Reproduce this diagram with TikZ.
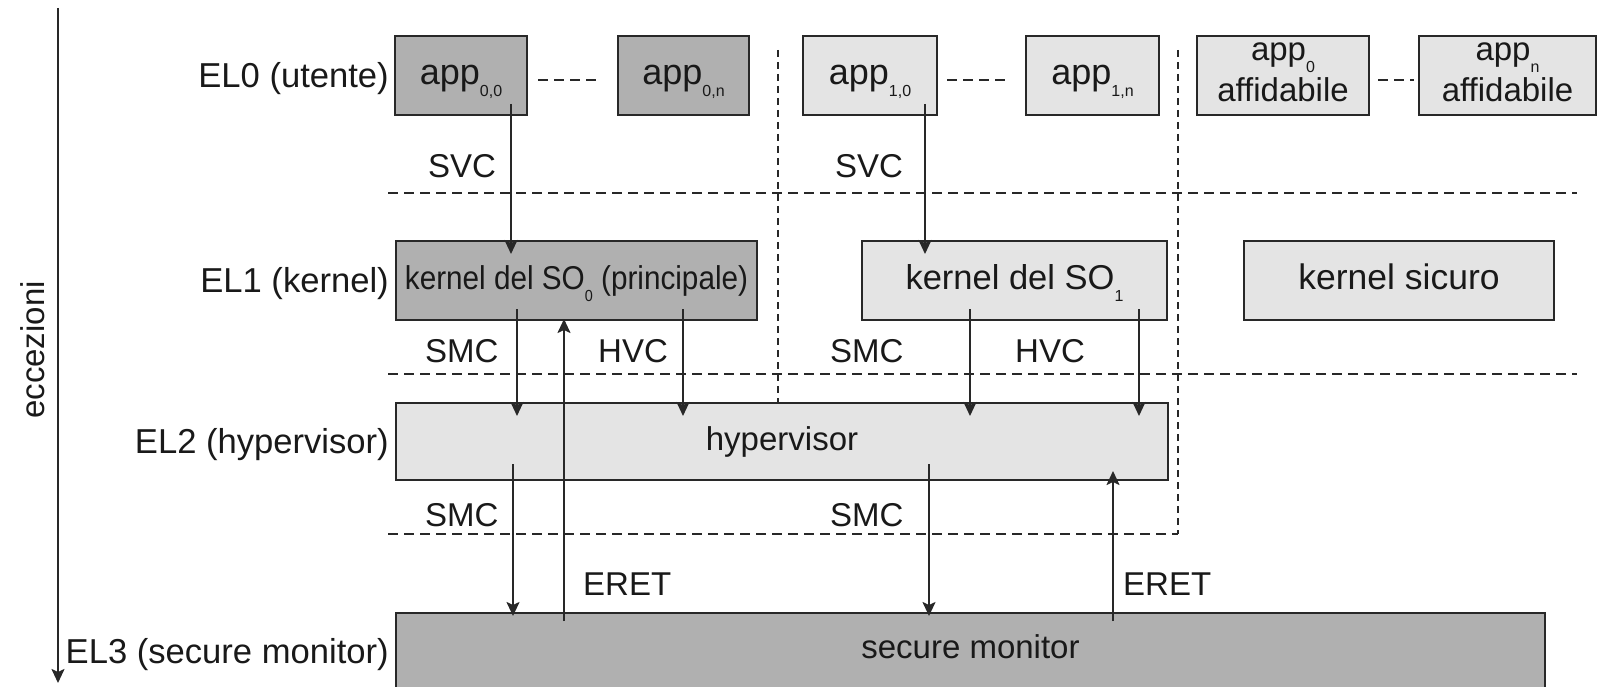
\documentclass[tikz,border=0pt]{standalone}
\usepackage{fontspec}
\setmainfont{Liberation Sans}
\usetikzlibrary{arrows.meta}

\definecolor{darkbox}{RGB}{176,176,176}
\definecolor{lightbox}{RGB}{228,228,228}
\definecolor{ink}{RGB}{40,40,40}

% lowered small index (subscript)
\newcommand\lowidx[1]{\raisebox{-12pt}{\fontsize{16}{16}\selectfont #1}}
% two centred lines, baseline on the last one
\newcommand\twolines[2]{{\renewcommand\arraystretch{0.9}\begin{tabular}[b]{@{}c@{}}#1\\#2\end{tabular}}}

\begin{document}
\begin{tikzpicture}[x=1pt,y=-1pt,
  every node/.style={font=\fontsize{33}{45}\selectfont, text=black!90, inner sep=0pt},
  box/.style={draw=ink, line width=2pt, text height=18pt, text depth=0pt},
  dark/.style={box, fill=darkbox},
  light/.style={box, fill=lightbox},
  appbox/.style={minimum width=#1, minimum height=79pt, font=\fontsize{36}{45}\selectfont},
  lvl/.style={anchor=base east, font=\fontsize{34.6}{45}\selectfont},
  tag/.style={anchor=base west},
  arr/.style={draw=ink, line width=2pt, -{Stealth[length=14pt,width=13pt,inset=3pt]}},
  sep/.style={draw=ink, line width=2pt, dash pattern=on 10pt off 6pt},
  vsep/.style={draw=ink, line width=1.6pt, dash pattern=on 7pt off 5pt}]

\useasboundingbox (0,0) rectangle (1601,687);

% vertical axis of exception levels
\node[rotate=90, anchor=base] (ecc) at (44,350) {eccezioni};
\coordinate (axtop) at (58,8);
\coordinate (axbot) at (58,683);
\draw[arr] (axtop) -- (axbot);

% level labels
\node[lvl] (l0) at (389,88)  {EL0 (utente)};
\node[lvl] (l1) at (389,292) {EL1 (kernel)};
\node[lvl] (l2) at (389,453) {EL2 (hypervisor)};
\node[lvl] (l3) at (389,663) {EL3 (secure monitor)};

% separators between levels and between worlds
\draw[sep] (388,193) -- (1577,193);
\draw[sep] (388,374) -- (1577,374);
\draw[sep] (388,534) -- (1178,534);
\draw[vsep] (778,50) -- (778,403);
\draw[vsep] (1178,50) -- (1178,534);

% EL0: applications
\node[dark,  appbox=132pt] (a00) at (461,75.5)    {app\lowidx{0,0}};
\node[dark,  appbox=131pt] (a0n) at (683.5,75.5)  {app\lowidx{0,n}};
\node[light, appbox=134pt] (a10) at (870,75.5)    {app\lowidx{1,0}};
\node[light, appbox=133pt] (a1n) at (1092.5,75.5) {app\lowidx{1,n}};
\node[light, minimum width=172pt, minimum height=79pt, text height=52pt] (t0) at (1283,75.5)
  {\twolines{app\lowidx{0}}{affidabile}};
\node[light, minimum width=177pt, minimum height=79pt, text height=52pt] (tn) at (1507.5,75.5)
  {\twolines{app\lowidx{n}}{affidabile}};

\draw[sep] ([xshift=10pt,yshift=-5pt]a00.east) -- ([xshift=-21pt,yshift=-5pt]a0n.west);
\draw[sep] ([xshift=9pt,yshift=-5pt]a10.east) -- ([xshift=-19pt,yshift=-5pt]a1n.west);
\draw[sep] ([xshift=8pt,yshift=-5pt]t0.east) -- ([xshift=-4pt,yshift=-5pt]tn.west);

% EL1: kernels
\node[dark,  minimum width=361pt, minimum height=79pt] (k0) at (576.5,280.5)
  {\scalebox{0.9}[1]{kernel del SO\lowidx{0} (principale)}};
\node[light, minimum width=305pt, minimum height=79pt, font=\fontsize{34.5}{45}\selectfont] (k1) at (1014.5,280.5) {kernel del SO\lowidx{1}};
\node[light, minimum width=310pt, minimum height=79pt, font=\fontsize{35.5}{45}\selectfont] (ks) at (1399,280.5) {kernel sicuro};

% EL2: hypervisor
\node[light, minimum width=772pt, minimum height=77pt] (hyp) at (782,441.5) {hypervisor};

% EL3: secure monitor (runs past the lower edge)
\node[dark, minimum width=1149pt, minimum height=140pt] (sm) at (970.5,683) {};
\node[anchor=base] (smlab) at (970.5,658) {secure monitor};

% columns of the calls
\coordinate (c1) at (511,0);
\coordinate (c2) at (925,0);
\coordinate (c3) at (517,0);
\coordinate (c4) at (683,0);
\coordinate (c5) at (970,0);
\coordinate (c6) at (1139,0);
\coordinate (c7) at (513,0);
\coordinate (c8) at (929,0);
\coordinate (c9) at (564,0);
\coordinate (c10) at (1113,0);

% SVC
\draw[arr] ([yshift=12pt]a00.south -| c1) -- ([yshift=-14pt]k0.north -| c1);
\draw[arr] ([yshift=12pt]a10.south -| c2) -- ([yshift=-14pt]k1.north -| c2);
% SMC / HVC from the kernels
\draw[arr] ([yshift=12pt]k0.south -| c3) -- ([yshift=-14pt]hyp.north -| c3);
\draw[arr] ([yshift=12pt]k0.south -| c4) -- ([yshift=-14pt]hyp.north -| c4);
\draw[arr] ([yshift=12pt]k1.south -| c5) -- ([yshift=-14pt]hyp.north -| c5);
\draw[arr] ([yshift=12pt]k1.south -| c6) -- ([yshift=-14pt]hyp.north -| c6);
% SMC from the hypervisor
\draw[arr] ([yshift=17pt]hyp.south -| c7) -- ([yshift=-4pt]sm.north -| c7);
\draw[arr] ([yshift=17pt]hyp.south -| c8) -- ([yshift=-4pt]sm.north -| c8);
% ERET
\draw[arr] ([yshift=-9pt]sm.north -| c9) -- ([yshift=2pt]k0.south -| c9);
\draw[arr] ([yshift=-9pt]sm.north -| c10) -- ([yshift=10pt]hyp.south -| c10);

% call labels
\node[tag] (svc0) at (428,178) {SVC};
\node[tag] (svc1) at (835,178) {SVC};
\node[tag] (smc0) at (425,362) {SMC};
\node[tag] (hvc0) at (598,362) {HVC};
\node[tag] (smc1) at (830,362) {SMC};
\node[tag] (hvc1) at (1015,362) {HVC};
\node[tag] (smc2) at (425,526) {SMC};
\node[tag] (smc3) at (830,526) {SMC};
\node[tag] (eret0) at (583,595) {ERET};
\node[tag] (eret1) at (1123,595) {ERET};

\end{tikzpicture}
\end{document}
